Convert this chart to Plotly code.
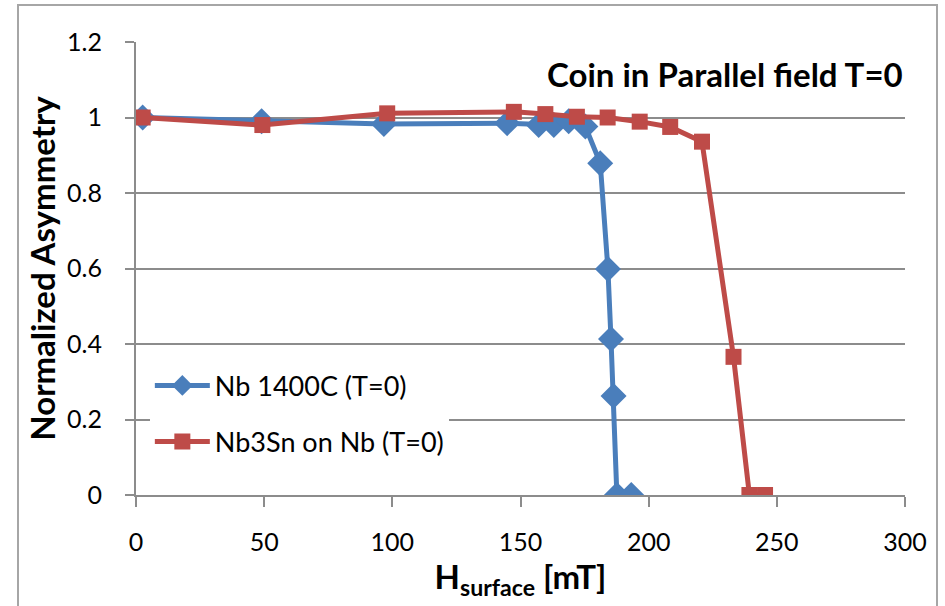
import plotly.graph_objects as go

nb_x = [2.6, 49, 96.7, 144.8, 157.1, 163, 168.8, 175.3, 181.1, 184.1, 185.3, 186.3, 187.6, 193.2]
nb_y = [1.0, 0.99, 0.983, 0.985, 0.98, 0.98, 0.99, 0.976, 0.879, 0.599, 0.413, 0.262, 0.0, 0.0]

sn_x = [2.6, 49.3, 98, 147.4, 159.7, 172, 184, 196.5, 208.4, 220.8, 233.1, 239.3, 245.4]
sn_y = [1.0, 0.98, 1.011, 1.015, 1.009, 1.002, 1.0, 0.989, 0.975, 0.936, 0.366, 0.0, 0.0]

FONT = "Lato"

fig = go.Figure()
fig.add_trace(go.Scatter(x=nb_x, y=nb_y, mode="lines+markers", name="Nb 1400C (T=0)",
                         legendgroup="a",
                         line=dict(color="#4A7EBB", width=5),
                         marker=dict(symbol="diamond", size=20, color="#4A7EBB")))
fig.add_trace(go.Scatter(x=sn_x, y=sn_y, mode="lines+markers", name="Nb3Sn on Nb (T=0)",
                         legendgroup="b",
                         line=dict(color="#BE4B48", width=5),
                         marker=dict(symbol="square", size=16, color="#BE4B48")))

grid = "#8c8c8c"
fig.update_layout(
    width=945, height=606,
    margin=dict(l=136, r=40, t=42, b=111),
    paper_bgcolor="white", plot_bgcolor="white",
    font=dict(family=FONT, size=25, color="black"),
    showlegend=True,
    legend=dict(x=0.018, y=0.295, xanchor="left", yanchor="top", bgcolor="white",
                font=dict(size=27), itemwidth=55, tracegroupgap=18),
    xaxis=dict(range=[0, 300], dtick=50, showgrid=False, showline=True, linecolor=grid,
               linewidth=2, ticks="outside", ticklen=10, tickcolor=grid, tickwidth=2,
               ticklabelstandoff=14, zeroline=False,
               title=dict(text="<b>H<sub>surface</sub> [mT]</b>", font=dict(size=33), standoff=9)),
    yaxis=dict(range=[0, 1.2], dtick=0.2, showgrid=True, gridcolor=grid, gridwidth=2,
               showline=True, linecolor=grid, linewidth=2, ticks="outside", ticklen=9,
               tickcolor=grid, tickwidth=2, ticklabelstandoff=18, zeroline=False,
               title=dict(text="<b>Normalized Asymmetry</b>", font=dict(size=33), standoff=2)),
    annotations=[dict(text="<b>Coin in Parallel field T=0</b>", xref="paper", yref="paper",
                      x=1.0, y=0.93, xanchor="right", yanchor="middle", showarrow=False,
                      font=dict(size=33))],
    shapes=[dict(type="rect", xref="paper", yref="paper",
                 x0=(18 - 136) / 769, x1=(937 - 136) / 769,
                 y0=(495 - 640) / 453, y1=(495 - 5) / 453,
                 line=dict(color="#a6a6a6", width=2), layer="below")],
)
fig.write_html("out.html")
